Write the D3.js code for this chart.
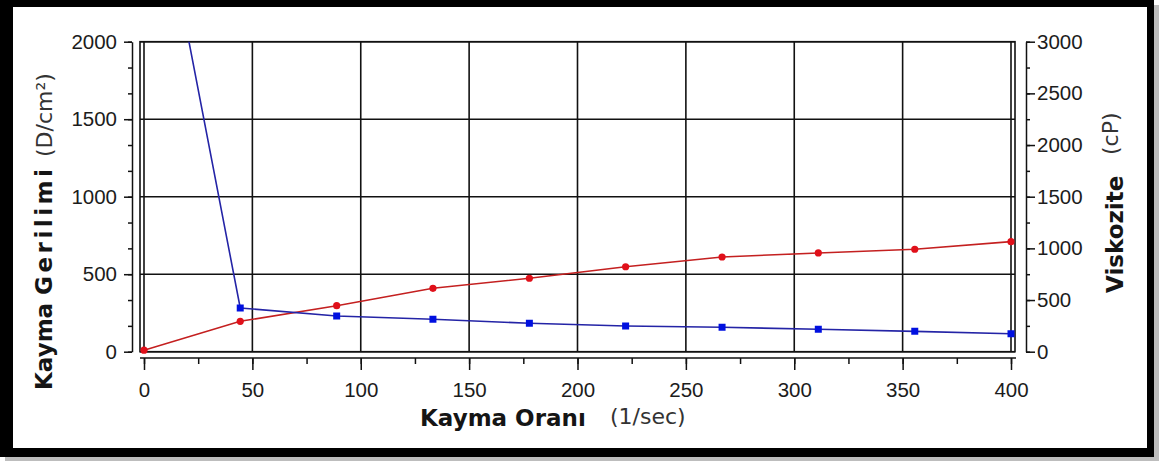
<!DOCTYPE html>
<html>
<head>
<meta charset="utf-8">
<script src="https://cdnjs.cloudflare.com/ajax/libs/d3/7.8.5/d3.min.js"></script>
<style>
    body { margin: 0; background: #fff; }
    #chart-area { width: 1159px; height: 461px; }
</style>
</head>
<body>
<div id="chart-area"></div>
<script>

// shear rate (1/sec)
let shearRates = [0, 44.4, 88.9, 133.3, 177.8, 222.2, 266.7, 311.1, 355.6, 400];
// shear stress (D/cm²) - left axis
let shearStress = [10, 196, 297, 409, 474, 548, 611, 637, 661, 710];
// viscosity (cP) - right axis
let viscosity = [5260, 423, 345, 314, 275, 249, 236, 217, 197, 174];

let xTicks = [0, 50, 100, 150, 200, 250, 300, 350, 400];
let stressTicks = [0, 500, 1000, 1500, 2000];
let viscTicks = [0, 500, 1000, 1500, 2000, 2500, 3000];

class RheoVis {

    constructor(parentElement) {
        this.parentElement = parentElement;
        this.initVis();
    }

    initVis() {
        let vis = this;

        vis.width = 1159;
        vis.height = 461;

        vis.svg = d3.select("#" + vis.parentElement).append("svg")
            .attr("width", vis.width)
            .attr("height", vis.height);

        // black frame with a little shadow
        vis.svg.append("rect")
            .attr("x", 5).attr("y", 5)
            .attr("width", 1154).attr("height", 456)
            .attr("fill", "#bdbdbd");
        vis.svg.append("rect")
            .attr("x", 0).attr("y", 0)
            .attr("width", 1154).attr("height", 457)
            .attr("fill", "#000");
        vis.svg.append("rect")
            .attr("x", 13).attr("y", 7)
            .attr("width", 1134).attr("height", 441)
            .attr("fill", "#fff");

        vis.box = {left: 140, right: 1015, top: 41.7, bottom: 351.7};

        // scales
        vis.x = d3.scaleLinear().domain([0, 400]).range([144, 1011]);
        vis.yLeft = d3.scaleLinear().domain([0, 2000]).range([vis.box.bottom, vis.box.top]);
        vis.yRight = d3.scaleLinear().domain([0, 3000]).range([vis.box.bottom, vis.box.top]);

        vis.stressData = shearRates.map((r, i) => ({rate: r, value: shearStress[i]}));
        vis.viscData = shearRates.map((r, i) => ({rate: r, value: viscosity[i]}));

        vis.drawGrid();
        vis.drawAxes();
        vis.drawLabels();
        vis.drawSeries();
    }

    drawGrid() {
        let vis = this;
        let grid = vis.svg.append("g").attr("class", "grid")
            .attr("stroke", "#111")
            .attr("stroke-width", 1.6);

        grid.selectAll(".v-grid")
            .data(xTicks)
            .enter().append("line")
            .attr("class", "v-grid")
            .attr("x1", d => vis.x(d)).attr("x2", d => vis.x(d))
            .attr("y1", vis.box.top).attr("y2", vis.box.bottom);

        grid.selectAll(".h-grid")
            .data(stressTicks)
            .enter().append("line")
            .attr("class", "h-grid")
            .attr("x1", vis.box.left).attr("x2", vis.box.right)
            .attr("y1", d => vis.yLeft(d)).attr("y2", d => vis.yLeft(d));

        grid.append("rect")
            .attr("x", vis.box.left).attr("y", vis.box.top)
            .attr("width", vis.box.right - vis.box.left)
            .attr("height", vis.box.bottom - vis.box.top)
            .attr("fill", "none");
    }

    styleAxis(g) {
        g.attr("color", "#111");
        g.selectAll("line, path").attr("stroke-width", 1.5);
        g.selectAll("text")
            .attr("font-family", "'Liberation Sans', Arial, sans-serif")
            .attr("font-size", 20.5)
            .attr("fill", "#1c1c1c");
    }

    drawAxes() {
        let vis = this;
        let thirds = (max) => d3.range(0, 13).map(i => i * max / 12);
        let fmt = d3.format("d");

        // left axis (shear stress)
        let leftMinor = vis.svg.append("g").attr("transform", "translate(132,0)")
            .call(d3.axisLeft(vis.yLeft).tickValues(thirds(2000)).tickSize(4).tickSizeOuter(0).tickFormat(""));
        let leftMajor = vis.svg.append("g").attr("transform", "translate(132,0)")
            .call(d3.axisLeft(vis.yLeft).tickValues(stressTicks).tickSize(8).tickPadding(7).tickFormat(fmt));
        leftMajor.select(".domain").remove();
        vis.styleAxis(leftMinor);
        vis.styleAxis(leftMajor);

        // right axis (viscosity)
        let rightMinor = vis.svg.append("g").attr("transform", "translate(1026,0)")
            .call(d3.axisRight(vis.yRight).tickValues(thirds(3000)).tickSize(4).tickSizeOuter(0).tickFormat(""));
        let rightMajor = vis.svg.append("g").attr("transform", "translate(1026,0)")
            .call(d3.axisRight(vis.yRight).tickValues(viscTicks).tickSize(9).tickPadding(2).tickFormat(fmt));
        rightMajor.select(".domain").remove();
        vis.styleAxis(rightMinor);
        vis.styleAxis(rightMajor);

        // bottom axis (shear rate)
        let xMinor = vis.svg.append("g").attr("transform", "translate(0,358)")
            .call(d3.axisBottom(vis.x).tickValues(d3.range(0, 401, 25)).tickSize(6).tickSizeOuter(0).tickFormat(""));
        xMinor.select(".domain").attr("d", `M${vis.box.left},0H${vis.box.right + 1}`);
        let xMajor = vis.svg.append("g").attr("transform", "translate(0,358)")
            .call(d3.axisBottom(vis.x).tickValues(xTicks).tickSize(12).tickPadding(12).tickFormat(fmt));
        xMajor.select(".domain").remove();
        vis.styleAxis(xMinor);
        vis.styleAxis(xMajor);
    }

    drawLabels() {
        let vis = this;
        let font = "'DejaVu Sans', Verdana, sans-serif";

        // left title
        let left = vis.svg.append("text")
            .attr("transform", "translate(52,390) rotate(-90)")
            .attr("font-family", font)
            .attr("font-weight", "bold")
            .attr("font-size", 23)
            .attr("fill", "#151515");
        left.append("tspan").text("Kayma ");
        left.append("tspan").attr("letter-spacing", 3.5).text("Gerilimi");

        vis.svg.append("text")
            .attr("transform", "translate(52,157) rotate(-90)")
            .attr("font-family", font)
            .attr("font-size", 22)
            .attr("fill", "#333")
            .text("(D/cm²)");

        // right title
        vis.svg.append("text")
            .attr("transform", "translate(1123,293) rotate(-90)")
            .attr("font-family", font)
            .attr("font-weight", "bold")
            .attr("font-size", 23)
            .attr("fill", "#151515")
            .text("Viskozite");

        vis.svg.append("text")
            .attr("transform", "translate(1118,155) rotate(-90)")
            .attr("font-family", font)
            .attr("font-size", 22)
            .attr("fill", "#333")
            .text("(cP)");

        // bottom title
        vis.svg.append("text")
            .attr("x", 420).attr("y", 426)
            .attr("font-family", font)
            .attr("font-weight", "bold")
            .attr("font-size", 23)
            .attr("fill", "#151515")
            .text("Kayma Oranı");

        vis.svg.append("text")
            .attr("x", 610).attr("y", 424)
            .attr("font-family", font)
            .attr("font-size", 22)
            .attr("fill", "#333")
            .text("(1/sec)");
    }

    drawSeries() {
        let vis = this;

        vis.svg.append("clipPath").attr("id", "plot-clip")
            .append("rect")
            .attr("x", vis.box.left).attr("y", vis.box.top)
            .attr("width", vis.box.right - vis.box.left)
            .attr("height", vis.box.bottom - vis.box.top + 4);

        let plot = vis.svg.append("g").attr("clip-path", "url(#plot-clip)");

        let stressLine = d3.line().x(d => vis.x(d.rate)).y(d => vis.yLeft(d.value));
        let viscLine = d3.line().x(d => vis.x(d.rate)).y(d => vis.yRight(d.value));

        plot.append("path")
            .datum(vis.stressData)
            .attr("d", stressLine)
            .attr("fill", "none")
            .attr("stroke", "#c42020")
            .attr("stroke-width", 1.6);

        plot.append("path")
            .datum(vis.viscData)
            .attr("d", viscLine)
            .attr("fill", "none")
            .attr("stroke", "#2424a6")
            .attr("stroke-width", 1.6);

        plot.selectAll(".stress-dot")
            .data(vis.stressData)
            .enter().append("circle")
            .attr("class", "stress-dot")
            .attr("cx", d => vis.x(d.rate))
            .attr("cy", d => vis.yLeft(d.value))
            .attr("r", 3.6)
            .attr("fill", "#e0101a");

        plot.selectAll(".visc-dot")
            .data(vis.viscData)
            .enter().append("path")
            .attr("class", "visc-dot")
            .attr("d", d3.symbol().type(d3.symbolSquare).size(49))
            .attr("transform", d => `translate(${vis.x(d.rate)},${vis.yRight(d.value)})`)
            .attr("fill", "#0010e0");
    }
}

let myRheoVis = new RheoVis("chart-area");

</script>
</body>
</html>
